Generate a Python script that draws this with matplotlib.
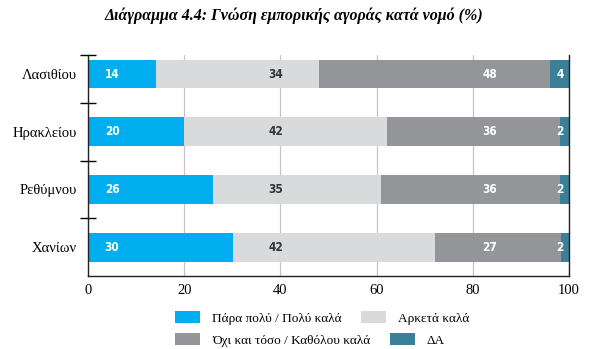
import numpy as np
import matplotlib
matplotlib.use("Agg")
import matplotlib.pyplot as plt
from matplotlib.patches import Patch

# data (bar lengths; printed labels as shown)
regions = ["Λασιθίου", "Ηρακλείου", "Ρεθύμνου", "Χανίων"]
very_good = [14.1, 20.0, 25.9, 30.2]
fairly_good = [33.9, 42.2, 35.1, 41.9]
not_good = [48.0, 35.9, 37.1, 26.2]
no_answer = [4.0, 1.9, 1.9, 2.0]
very_good_lbl = [14, 20, 26, 30]
fairly_good_lbl = [34, 42, 35, 42]
not_good_lbl = [48, 36, 36, 27]
no_answer_lbl = [4, 2, 2, 2]
series_names = ["Πάρα πολύ / Πολύ καλά", "Αρκετά καλά",
                "Όχι και τόσο / Καθόλου καλά", "ΔΑ"]
xticks = [0, 20, 40, 60, 80, 100]

colors = ["#00aeef", "#d9dadb", "#939598", "#3b7f98"]
text_colors = ["white", "#333333", "white", "white"]
label_x = [5, 39, 83.5, 98.1]   # labels sit in fixed columns in the original

serif = "Liberation Serif"
num_font = dict(family="DejaVu Sans", weight="bold", stretch="condensed", size=8.5)

fig = plt.figure(figsize=(5.97, 3.49), dpi=100)
ax = fig.add_axes([0.1474, 0.2092, 0.8058, 0.6332])

y = np.arange(len(regions))
left = np.zeros(len(regions))
all_series = [very_good, fairly_good, not_good, no_answer]
all_labels = [very_good_lbl, fairly_good_lbl, not_good_lbl, no_answer_lbl]
for vals, lbls, col, tcol, lx in zip(all_series, all_labels, colors, text_colors, label_x):
    ax.barh(y, vals, left=left, height=0.5, color=col, zorder=2)
    for yi, v in zip(y, lbls):
        ax.text(lx, yi, str(v), ha="center", va="center", color=tcol,
                zorder=3, **num_font)
    left += np.array(vals)

ax.set_xlim(0, 100)
ax.set_ylim(3.5, -0.33)
ax.set_xticks(xticks)
ax.set_xticklabels([str(t) for t in xticks], fontfamily=serif, fontsize=10.5)
ax.set_yticks(y)
ax.set_yticklabels(regions, fontfamily=serif, fontsize=10.5)
ax.set_yticks([-0.33, 0.5, 1.5, 2.5], minor=True)
ax.tick_params(axis="x", length=0, pad=6)
ax.tick_params(axis="y", which="major", length=0, pad=8)
ax.tick_params(axis="y", which="minor", length=11, direction="inout", width=1)

ax.grid(axis="x", color="#c4c4c4", linewidth=0.9, zorder=0)
ax.set_axisbelow(True)
ax.spines["top"].set_visible(False)
for s in ["left", "bottom", "right"]:
    ax.spines[s].set_color("#222222")
    ax.spines[s].set_linewidth(1.0)

fig.text(0.493, 0.955, "Διάγραμμα 4.4: Γνώση εμπορικής αγοράς κατά νομό (%)",
         ha="center", va="center", fontfamily=serif, fontstyle="italic",
         fontweight="bold", fontsize=11.5)

handles = [Patch(facecolor=c, edgecolor="none") for c in colors]
leg_kw = dict(loc="center left", ncol=2, frameon=False, handlelength=1.9,
              handleheight=0.95, handletextpad=0.9, columnspacing=1.5,
              borderpad=0, borderaxespad=0,
              prop=dict(family=serif, size=9.5))
leg1 = fig.legend(handles[:2], series_names[:2],
                  bbox_to_anchor=(0.293, 1 - 318 / 349), **leg_kw)
leg2 = fig.legend(handles[2:], series_names[2:],
                  bbox_to_anchor=(0.293, 1 - 340 / 349), **leg_kw)

fig.savefig("out.png", dpi=100)
